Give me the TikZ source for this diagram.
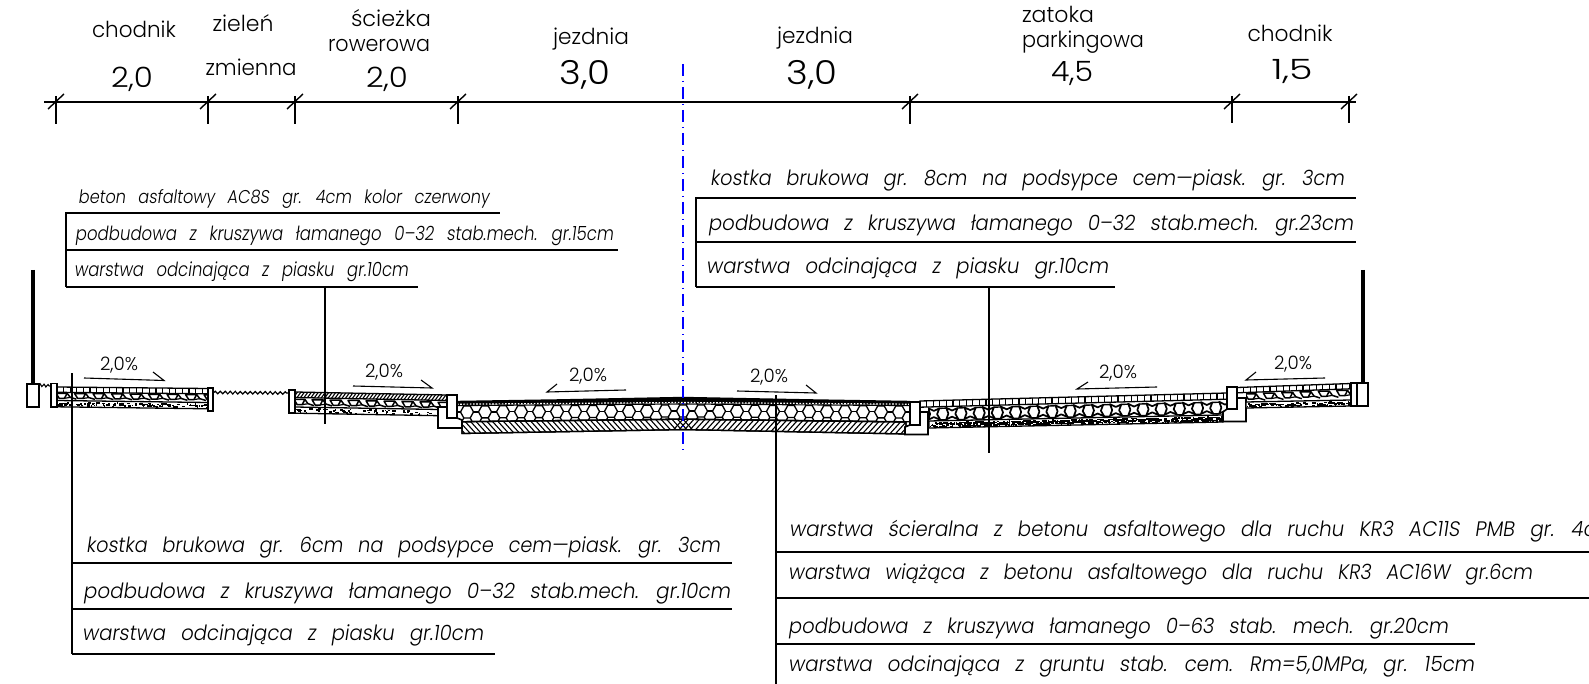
\documentclass[tikz,border=0pt]{standalone}
\usepackage{graphicx}
\usepackage{fontspec}
\usetikzlibrary{decorations.pathmorphing}
\setmainfont[WordSpace=1.6]{Poppins Light}
\newfontfamily\oblf[FakeSlant=0.16,WordSpace=2.8]{Poppins Light}
\newsavebox\fitbox
\newcommand\fitw[2]{\sbox\fitbox{#2}\pgfmathsetmacro\fitx{#1/\the\wd\fitbox}\scalebox{\fitx}[1]{\usebox\fitbox}}
\newcommand\fs[1]{\fontsize{#1}{#1}\selectfont}
\tikzset{
  rulel/.style={line width=1.3pt,black},
  lead/.style={line width=1.1pt,black},
  lab/.style={anchor=base west,inner sep=0pt,font=\oblf\fs{21}},
  toplab/.style={anchor=base,inner sep=0pt,font=\fs{22}},
  num/.style={anchor=base,inner sep=0pt,font=\fs{28}},
  slope/.style={anchor=base,inner sep=0pt,font=\fs{18.5}},
  slopeline/.style={line width=1.1pt},
  kerb/.style={line width=1.6pt,fill=white,draw=black},
  outl/.style={line width=1.3pt,draw=black},
  tick/.style={line width=1.2pt},
  polestick/.style={line width=3.2pt,black},
}
% interpolated pavers: x1,y1,x2,y2,h,step
\newcommand\pavers[6]{%
  \draw[outl,fill=white] (#1,#2)--(#3,#4)--(#3,#4+#5)--(#1,#2+#5)--cycle;
  \pgfmathsetmacro\nn{int((#3-#1)/#6)}
  \foreach \k in {1,...,\nn}{%
    \pgfmathsetmacro\px{#1+\k*#6}
    \pgfmathsetmacro\py{#2+(#4-#2)*(\px-#1)/(#3-#1)}
    \draw[line width=1.2pt] (\px,\py)--(\px,\py+#5);}%
}
% sidewalk cobbles: x1,y1t,x2,y2t,h,step
\newcommand\cobbles[6]{%
  \begin{scope}
  \clip (#1,#2)--(#3,#4)--(#3,#4+#5)--(#1,#2+#5)--cycle;
  \pgfmathsetmacro\nn{int((#3-#1)/#6)}
  \foreach \k in {0,...,\nn}{%
    \pgfmathsetmacro\px{#1+\k*#6}
    \pgfmathsetmacro\py{#2+(#4-#2)*(\px-#1)/(#3-#1)}
    \draw[line width=1.5pt,line join=round] (\px-.05*#6,\py+.15*#5)--(\px+.55*#6,\py+.15*#5)--(\px+.4*#6,\py+.7*#5)--(\px+.12*#6,\py+.7*#5)--cycle;
    \draw[line width=1.5pt,line join=round] (\px+.55*#6,\py+.15*#5)--(\px+.72*#6,\py+.6*#5)--(\px+1.05*#6,\py+.8*#5);
    \draw[line width=1.2pt] (\px+.4*#6,\py+.7*#5)--(\px+.72*#6,\py+.6*#5);}%
  \end{scope}%
}
% bay cobbles, concave stones: x1,y1t,x2,y2t,h,step
\newcommand\cobblesb[6]{%
  \begin{scope}
  \clip (#1,#2)--(#3,#4)--(#3,#4+#5)--(#1,#2+#5)--cycle;
  \pgfmathsetmacro\nn{int((#3-#1)/#6)}
  \foreach \k in {0,...,\nn}{%
    \pgfmathsetmacro\px{#1+\k*#6}
    \pgfmathsetmacro\py{#2+(#4-#2)*(\px-#1)/(#3-#1)}
    \draw[line width=1.7pt,line join=round] (\px,\py+.08*#5)--(\px+.32*#6,\py+.28*#5)--(\px+.62*#6,\py+.1*#5)--(\px+.5*#6,\py+.52*#5)--(\px+.68*#6,\py+.92*#5)--(\px+.32*#6,\py+.72*#5)--(\px,\py+.92*#5)--(\px+.12*#6,\py+.5*#5)--cycle;
    \draw[line width=1.4pt] (\px+.62*#6,\py+.1*#5)--(\px+#6,\py+.08*#5) (\px+.68*#6,\py+.92*#5)--(\px+#6,\py+.92*#5);}%
  \end{scope}%
}
% sand: x1,y1t,x2,y2t,h,n
\newcommand\speck[6]{%
  \draw[outl,fill=white] (#1,#2)--(#3,#4)--(#3,#4+#5)--(#1,#2+#5)--cycle;
  \foreach \k in {1,...,#6}{%
    \pgfmathsetmacro\tu{rnd}\pgfmathsetmacro\tv{rnd}\pgfmathsetmacro\tw{1+2.4*rnd}
    \fill ({#1+(#3-#1)*\tu},{#2+(#4-#2)*\tu+1+(#5-2.6)*\tv}) rectangle ++(\tw,1.5);}%
}
\begin{document}
\begin{tikzpicture}[x=1pt,y=-1pt]
\useasboundingbox (0,0) rectangle (1589,684);
\clip (0,0) rectangle (1589,684);
\pgfmathsetseed{11}

% ---------- dimension line
\coordinate (dl) at (44,102); \coordinate (dr) at (1356,102);
\draw[rulel] (dl)--(dr);
\foreach \x/\yb in {56/124,208/124,295/124,458/124,910/124,1232/123,1349/123}{
  \draw[tick] (\x,96)--(\x,\yb);
  \draw[line width=1.4pt] (\x-8,109)--(\x+8,94);
}
\node[toplab] (t1) at (134,38) {\fitw{84}{chodnik}};
\node[num]    (n1) at (132,88) {\fitw{42}{2,0}};
\node[toplab] (t2) at (243,32) {\fitw{61}{zieleń}};
\node[toplab] (t3) at (251,76) {\fitw{91}{zmienna}};
\node[toplab] (t4) at (391,27) {\fitw{80}{ścieżka}};
\node[toplab] (t5) at (379,52) {\fitw{102}{rowerowa}};
\node[num]    (n2) at (387,88) {\fitw{42}{2,0}};
\node[toplab] (t6) at (591,45) {\fitw{76}{jezdnia}};
\node[num,font=\fs{33}] (n3) at (585,85) {\fitw{51}{3,0}};
\node[toplab] (t7) at (815,44) {\fitw{76}{jezdnia}};
\node[num,font=\fs{33}] (n4) at (812,85) {\fitw{51}{3,0}};
\node[toplab] (t8) at (1058,23) {\fitw{72}{zatoka}};
\node[toplab] (t9) at (1083,48) {\fitw{122}{parkingowa}};
\node[num]    (n5) at (1072,82) {\fitw{42}{4,5}};
\node[toplab] (t10) at (1290,42) {\fitw{85}{chodnik}};
\node[num]    (n6) at (1292,80) {\fitw{41}{1,5}};

% ---------- left label block
\draw[rulel] (66,287)--(66,213)--(500,213);
\draw[rulel] (66,250)--(618,250);
\draw[rulel] (66,287)--(418,287);
\node[lab,font=\oblf\fs{18.5}] (a1) at (78,204) {\fitw{411}{beton asfaltowy AC8S gr. 4cm kolor czerwony}};
\node[lab,font=\oblf\fs{19.5}] (a2) at (75,241) {\fitw{538}{podbudowa z kruszywa łamanego 0–32 stab.mech. gr.15cm}};
\node[lab,font=\oblf\fs{19.5}] (a3) at (74,277) {\fitw{334}{warstwa odcinająca z piasku gr.10cm}};

% ---------- right label block
\draw[rulel] (696,287)--(696,198)--(1356,198);
\draw[rulel] (696,242)--(1356,242);
\draw[rulel] (696,287)--(1115,287);
\node[lab] (b1) at (710,186) {\fitw{634}{kostka brukowa gr. 8cm na podsypce cem—piask. gr. 3cm}};
\node[lab] (b2) at (708,231) {\fitw{645}{podbudowa z kruszywa łamanego 0–32 stab.mech. gr.23cm}};
\node[lab] (b3) at (706,274) {\fitw{402}{warstwa odcinająca z piasku gr.10cm}};

% ---------- lower-left block
\draw[rulel] (72,563)--(732,563);
\draw[rulel] (72,609)--(732,609);
\draw[rulel] (72,654)--(495,654);
\node[lab] (c1) at (86,552) {\fitw{634}{kostka brukowa gr. 6cm na podsypce cem—piask. gr. 3cm}};
\node[lab] (c2) at (83,598) {\fitw{647}{podbudowa z kruszywa łamanego 0–32 stab.mech. gr.10cm}};
\node[lab] (c3) at (82,640) {\fitw{401}{warstwa odcinająca z piasku gr.10cm}};

% ---------- lower-right block
\draw[rulel] (776,552)--(1589,552);
\draw[rulel] (776,598)--(1589,598);
\draw[rulel] (776,644)--(1475,644);
\node[lab] (d1) at (789,536) {\fitw{826}{warstwa ścieralna z betonu asfaltowego dla ruchu KR3 AC11S PMB gr. 4cm}};
\node[lab] (d2) at (788,579) {\fitw{744}{warstwa wiążąca z betonu asfaltowego dla ruchu KR3 AC16W gr.6cm}};
\node[lab] (d3) at (788,633) {\fitw{660}{podbudowa z kruszywa łamanego 0–63 stab. mech. gr.20cm}};
\node[lab] (d4) at (788,671) {\fitw{686}{warstwa odcinająca z gruntu stab. cem. Rm=5,0MPa, gr. 15cm}};

% ---------- left sidewalk
\draw[polestick] (33,270)--(33,384);
\draw[kerb] (27,384) rectangle (39,407);
\draw[line width=1.1pt,decorate,decoration={zigzag,amplitude=1.3pt,segment length=4pt}] (39,385)--(50,386);
\speck{57}{400.5}{208}{402.5}{6.3}{110}
\cobbles{57}{392}{208}{393.5}{9}{18.5}
\pavers{57}{387}{208}{388.5}{5.3}{6.6}
\draw[kerb] (51,383.5) rectangle (57,407);
\draw[kerb] (208,388) rectangle (213,411);
\draw[line width=1.2pt,decorate,decoration={zigzag,amplitude=1.3pt,segment length=5pt}] (214,392.5)--(288,393);

% ---------- cycle path
\speck{295}{407}{439}{409.5}{6.2}{70}
\cobbles{295}{398}{447}{401}{9.5}{18}
\draw[outl,fill=white] (295,392)--(447,395)--(447,400.5)--(295,397.5)--cycle;
\begin{scope}
\clip (295,392)--(447,395)--(447,400.5)--(295,397.5)--cycle;
\foreach \x in {295,298.5,...,452}{\draw[line width=1.1pt] (\x-4,401)--(\x+4,390);}
\end{scope}
\draw[kerb] (289,390) rectangle (295,413);

% ---------- carriageway
\begin{scope}
\clip (457,402)--(683,398)--(910,402)--(910,423)--(683,420)--(457,423)--cycle;
\fill[white] (450,390) rectangle (915,425);
\foreach \k in {-13,...,13}{
  \pgfmathsetmacro\cx{683+\k*18}
  \pgfmathsetmacro\my{411+abs(\k)*0.08}
  \draw[line width=1.3pt] (\cx-6.5,\my)--(\cx-3.2,\my-6)--(\cx+3.2,\my-6)--(\cx+6.5,\my)--(\cx+3.2,\my+6)--(\cx-3.2,\my+6)--cycle;
  \draw[line width=1.3pt] (\cx+6.5,\my)--(\cx+11.5,\my);
  \draw[line width=1.3pt] (\cx+3.2,\my-6)--(\cx+6.5,\my-12) (\cx+14.8,\my-6)--(\cx+11.5,\my-12);
  \draw[line width=1.3pt] (\cx+3.2,\my+6)--(\cx+6.5,\my+12) (\cx+14.8,\my+6)--(\cx+11.5,\my+12);
}
\end{scope}
\draw[outl,fill=white] (462,421.7)--(683,419.2)--(906,422)--(906,434)--(683,429.6)--(462,433.5)--cycle;
\begin{scope}
\clip (462,421.7)--(683,419.2)--(906,422)--(906,434)--(683,429.6)--(462,433.5)--cycle;
\foreach \x in {450,455.5,...,685}{\draw[line width=1.1pt] (\x,417)--(\x+18,437);}
\foreach \x in {667,672.5,...,915}{\draw[line width=1.1pt] (\x+18,417)--(\x,437);}
\end{scope}
\draw[outl] (462,421.7)--(683,419.2)--(906,422)--(906,434)--(683,429.6)--(462,433.5)--cycle;
\draw[line width=1.1pt] (457,405.6)--(683,404)--(910,405.6);
\fill (457,400.8)--(560,399.2)--(683,396.8)--(810,399.2)--(910,400.8)--(910,405)--(683,403.2)--(457,405)--cycle;
\draw[line width=1.2pt,white,dash pattern=on 1.6pt off 1.6pt] (457,404.2)--(683,402.5)--(910,404.2);
\draw[outl] (457,421.8)--(683,419.2)--(910,421.8);

% ---------- carriageway kerbs and their supports
\draw[kerb] (438,407)--(447,407)--(447,418)--(457,418)--(462,420)--(462,428)--(438,428)--cycle;
\draw[kerb] (447,395) rectangle (457,418);
\draw[kerb] (928,412)--(920,412)--(920,425)--(910,425)--(905,427)--(905,434.5)--(928,434.5)--cycle;

% ---------- parking bay
\cobblesb{928}{407}{1227}{400.5}{14}{18.2}
\pavers{920}{401}{1227}{393}{6.2}{6.6}
\speck{929}{421}{1223}{415}{7}{620}
\draw[kerb] (910,402) rectangle (920,425);
\draw[kerb] (1246,398)--(1237,398)--(1237,409)--(1227,409)--(1223,412)--(1223,421.5)--(1246,421.5)--cycle;

% ---------- right sidewalk
\speck{1246}{402}{1351}{400}{6}{110}
\cobbles{1246}{392.5}{1351}{388.5}{9.5}{18.3}
\pavers{1237}{387.5}{1351}{383.5}{5.3}{6.6}
\draw[kerb] (1227,387) rectangle (1237,409);
\draw[kerb] (1351,383) rectangle (1357,406);
\draw[kerb] (1357,383) rectangle (1368,406);
\draw[polestick] (1363,270)--(1363,383);

% ---------- slope marks
\draw[slopeline] (84,378)--(164,380.5)--(153,372);
\node[slope] (s1) at (119,370) {\fitw{38}{2,0\%}};
\draw[slopeline] (353,386)--(432,388)--(421,380);
\node[slope] (s2) at (384,377) {\fitw{38}{2,0\%}};
\draw[slopeline] (626,390)--(547,392)--(557,384);
\node[slope] (s3) at (588,381) {\fitw{38}{2,0\%}};
\draw[slopeline] (737,391)--(816,393)--(806,385);
\node[slope] (s4) at (769,382) {\fitw{38}{2,0\%}};
\draw[slopeline] (1157,387)--(1077,389)--(1088,382);
\node[slope] (s5) at (1118,378) {\fitw{38}{2,0\%}};
\draw[slopeline] (1325,378)--(1246,380)--(1256,372);
\node[slope] (s6) at (1293,369) {\fitw{38}{2,0\%}};

% ---------- leaders
\draw[lead] (325,287)--(325,424);
\draw[lead] (989,287)--(989,453);
\draw[lead] (72,373)--(72,654);
\draw[lead] (776,395)--(776,684);

% ---------- centre line
\draw[line width=1.7pt,blue,dash pattern=on 12pt off 5pt on 1pt off 5pt] (683,64)--(683,450);
\end{tikzpicture}
\end{document}
